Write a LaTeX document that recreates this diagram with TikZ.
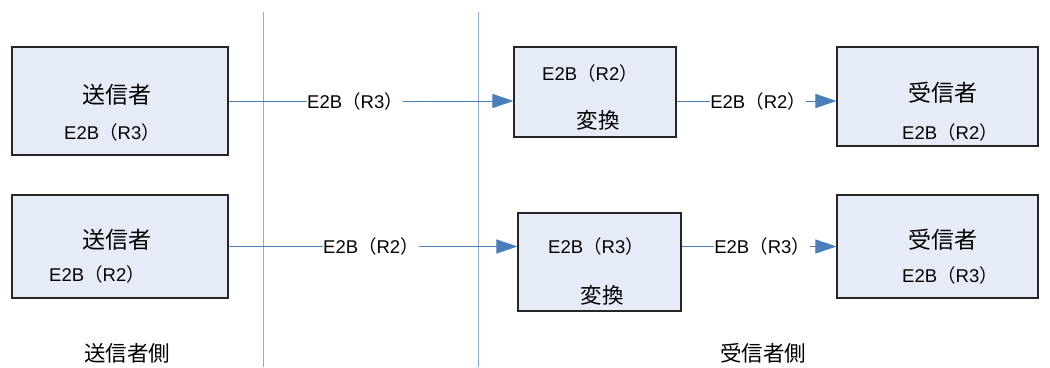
\documentclass[tikz,border=0pt]{standalone}
\usepackage{fontspec}
\setmainfont{Liberation Sans}
\newfontfamily\cjk{Noto Sans CJK JP}
\usetikzlibrary{arrows.meta}
\definecolor{boxfill}{HTML}{E6ECF7}
\definecolor{linkblue}{HTML}{4A7EBB}
\definecolor{divider}{HTML}{8FAADC}
% version tag such as E2B (R3), with full-width brackets
\newcommand{\etb}[1]{E2B{\cjk （}#1{\cjk ）}}
\tikzset{
  box/.style={draw=black!85, fill=boxfill, line width=1.1pt, rectangle, inner sep=0pt},
  jp/.style={font=\cjk\fontsize{23}{26}\selectfont, inner sep=0pt},
  jps/.style={font=\cjk\fontsize{21.5}{24}\selectfont, inner sep=0pt},
  ver/.style={font=\fontsize{18.5}{21}\selectfont, inner sep=0pt},
  lbl/.style={font=\fontsize{18.5}{21}\selectfont, fill=white, inner ysep=2pt, inner xsep=0pt},
  conn/.style={draw=linkblue, line width=1pt, -{Triangle[length=21pt,width=14pt,fill=linkblue]}},
  divline/.style={draw=divider, line width=1pt}
}
\begin{document}
\begin{tikzpicture}[x=1pt,y=-1pt]
\useasboundingbox (0,0) rectangle (1050,367);

% dividers between sender side, transfer zone and receiver side
\coordinate (v1t) at (263,12);  \coordinate (v1b) at (263,367);
\coordinate (v2t) at (478,12);  \coordinate (v2b) at (478,367);
\draw[divline] (v1t) -- (v1b);
\draw[divline] (v2t) -- (v2b);

% senders
\node[box, minimum width=216, minimum height=108] (s1) at (120,101) {};
\node[jp]  (s1a) at (117,95)  {送信者};
\node[ver] (s1b) at (112,132) {\etb{R3}};
\node[box, minimum width=216, minimum height=103] (s2) at (120,246.5) {};
\node[jp]  (s2a) at (117,240) {送信者};
\node[ver] (s2b) at (97,274)  {\etb{R2}};

% converters
\node[box, minimum width=162, minimum height=90] (c1) at (595,92) {};
\node[ver] (c1a) at (590,73)  {\etb{R2}};
\node[jps] (c1b) at (598,120) {変換};
\node[box, minimum width=163, minimum height=98] (c2) at (599.5,262) {};
\node[ver] (c2a) at (596,246) {\etb{R3}};
\node[jps] (c2b) at (602,295) {変換};

% receivers
\node[box, minimum width=201, minimum height=99] (r1) at (937.5,96.5) {};
\node[jp]  (r1a) at (943,93)  {受信者};
\node[ver] (r1b) at (950,132) {\etb{R2}};
\node[box, minimum width=201, minimum height=103] (r2) at (937.5,246.5) {};
\node[jp]  (r2a) at (943,240) {受信者};
\node[ver] (r2b) at (950,275) {\etb{R3}};

% side captions
\node[jps] (ls) at (127,353) {送信者側};
\node[jps] (lr) at (763,353) {受信者側};

% message flows
\draw[conn] (s1.east) -- (c1.west |- s1.east)
  node[lbl, pos=0.444] (m1) {\etb{R3}};
\draw[conn] (c1.east |- s1.east) -- (r1.west |- s1.east)
  node[lbl, pos=0.51] (m2) {\etb{R2}};
\draw[conn] (s2.east) -- (c2.west |- s2.east)
  node[lbl, pos=0.493] (m3) {\etb{R2}};
\draw[conn] (c2.east |- s2.east) -- (r2.west |- s2.east)
  node[lbl, pos=0.52] (m4) {\etb{R3}};
\end{tikzpicture}
\end{document}
